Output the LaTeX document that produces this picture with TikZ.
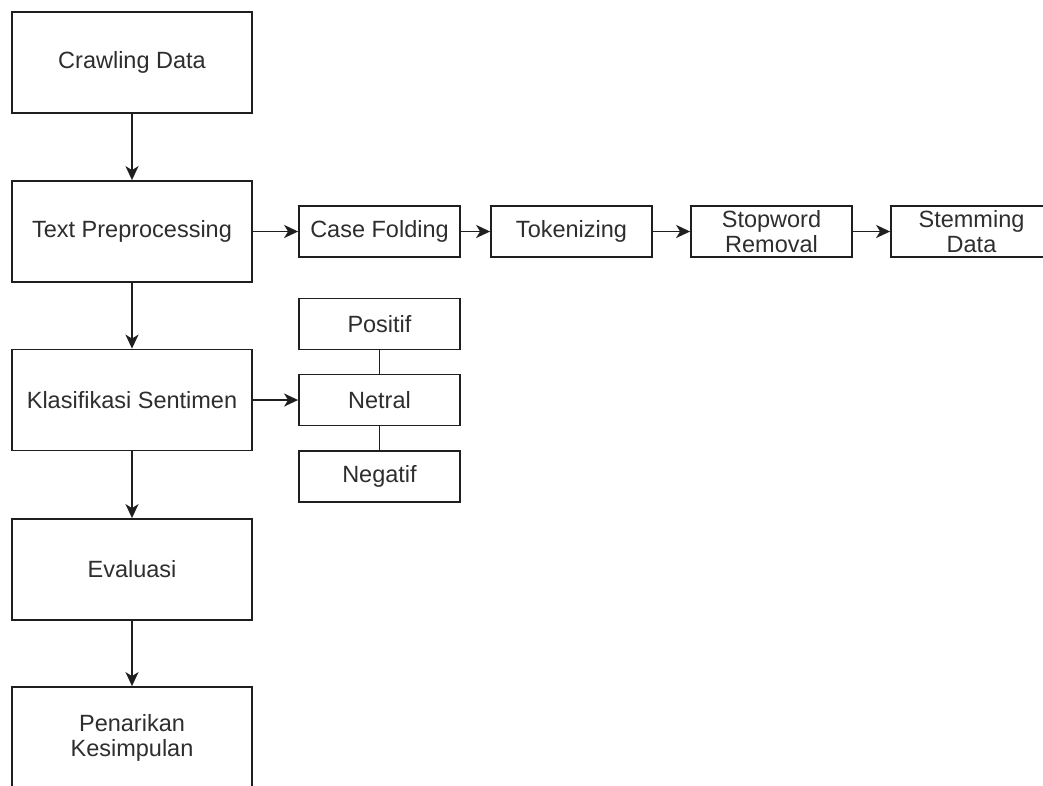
\documentclass[tikz,border=0pt]{standalone}
\usepackage{fontspec}
\setmainfont{Liberation Sans}
\usetikzlibrary{arrows.meta}
\begin{document}
\begin{tikzpicture}[x=1pt,y=-1pt,
  basebox/.style={draw=black!88, line width=1.8pt, inner sep=0pt, align=center,
    font=\fontsize{23.5}{25}\selectfont, text=black!82},
  bigbox/.style={basebox, minimum width=240pt, minimum height=101pt},
  smallbox/.style={basebox, minimum width=161pt, minimum height=51pt},
  flow/.style={draw=black!88, line width=1.8pt, -{Stealth[length=14pt,width=13pt,inset=4pt]}},
  link/.style={draw=black!88, line width=1.8pt}]
\useasboundingbox (0,0) rectangle (1043,785);
\clip (0,0) rectangle (1043,785);
\fill[white] (0,0) rectangle (1043,785);
% main column
\node[bigbox] (crawl) at (132,62.5) {Crawling Data};
\node[bigbox] (tp) at (132,231.5) {Text Preprocessing};
\node[bigbox] (klas) at (132,400) {Klasifikasi Sentimen};
\node[bigbox] (eval) at (132,569.5) {Evaluasi};
\node[bigbox] (pen) at (132,737.5) {Penarikan\\Kesimpulan};
% preprocessing row
\node[smallbox] (case) at (379.5,231.5) {Case Folding};
\node[smallbox] (tok) at (571.5,231.5) {Tokenizing};
\node[smallbox] (stop) at (771.5,231.5) {Stopword\\Removal};
\node[smallbox] (stem) at (971.5,231.5) {Stemming\\Data};
% sentiment classes
\node[smallbox] (pos) at (379.5,324) {Positif};
\node[smallbox] (net) at (379.5,400) {Netral};
\node[smallbox] (neg) at (379.5,476.5) {Negatif};
% connectors
\draw[flow] (crawl) -- (tp);
\draw[flow] (tp) -- (klas);
\draw[flow] (klas) -- (eval);
\draw[flow] (eval) -- (pen);
\draw[flow] (tp) -- (case);
\draw[flow] (case) -- (tok);
\draw[flow] (tok) -- (stop);
\draw[flow] (stop) -- (stem);
\draw[flow] (klas) -- (net);
\draw[link] (pos) -- (net);
\draw[link] (net) -- (neg);
\end{tikzpicture}
\end{document}
